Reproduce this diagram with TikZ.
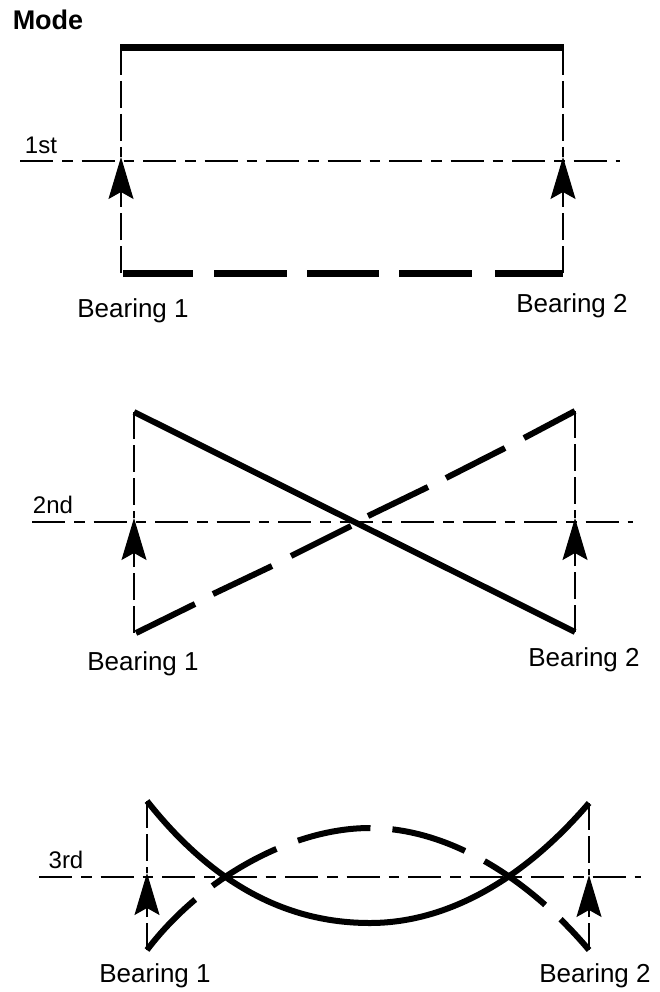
\documentclass[tikz,border=0pt]{standalone}
\usepackage{fontspec}
\setmainfont{Liberation Sans}
\usetikzlibrary{arrows.meta}
\tikzset{
  x=1pt,y=-1pt,
  thick beam/.style={line width=7pt,line cap=butt},
  beam/.style={line width=6pt,line cap=butt},
  guide/.style={line width=1.2pt,dash pattern=on 27pt off 6pt},
  axis/.style={line width=1.2pt,dash pattern=on 33pt off 9pt on 10.5pt off 9pt},
  bearing/.style={guide,-{Stealth[length=42pt,width=25pt,inset=7pt]}},
  lbl/.style={inner sep=0pt,font=\fontsize{26}{26}\selectfont},
  mode/.style={inner sep=0pt,font=\fontsize{24}{24}\selectfont},
}
\begin{document}
\begin{tikzpicture}
\useasboundingbox (0,0) rectangle (659,992);
\node[inner sep=0pt,font=\bfseries\fontsize{27}{27}\selectfont] (title) at (48,20) {Mode};

% 1st mode
\coordinate (a1) at (121,48); \coordinate (b1) at (563,48);
\coordinate (c1) at (121,273); \coordinate (d1) at (563,273);
\coordinate (e1) at (121,157); \coordinate (f1) at (563,157);
\coordinate (g1) at (20,161); \coordinate (h1) at (620,161);
\draw[axis] (g1) -- (h1);
\draw[guide] (a1) -- (e1);
\draw[guide] (b1) -- (f1);
\draw[bearing] (c1) -- (e1);
\draw[bearing] (d1) -- (f1);
\draw[thick beam] (120,48) -- (564,48);
\draw[thick beam] (123,273) -- (193,273);
\draw[thick beam] (214,273) -- (287,273);
\draw[thick beam] (307,273) -- (379,273);
\draw[thick beam] (399,273) -- (472,273);
\draw[thick beam] (495,273) -- (563,273);
\node[mode] (m1) at (41,145) {1st};
\node[lbl] (p1) at (133,311) {Bearing 1};
\node[lbl] (q1) at (572,306) {Bearing 2};

% 2nd mode
\coordinate (a2) at (134,412); \coordinate (b2) at (575,411);
\coordinate (c2) at (134,633); \coordinate (d2) at (575,632);
\coordinate (e2) at (134,518); \coordinate (f2) at (575,518);
\coordinate (g2) at (32,522); \coordinate (h2) at (633,522);
\draw[axis] (g2) -- (h2);
\draw[guide] (a2) -- (e2);
\draw[guide] (b2) -- (f2);
\draw[bearing] (c2) -- (e2);
\draw[bearing] (d2) -- (f2);
\draw[beam] (a2) -- (d2);
\draw[beam] (136,633) -- (195,604);
\draw[beam] (213,594) -- (272,566);
\draw[beam] (291,556) -- (351,526);
\draw[beam] (368,516) -- (428,487);
\draw[beam] (446,478) -- (505,448);
\draw[beam] (524,438) -- (b2);
\node[mode] (m2) at (53,505) {2nd};
\node[lbl] (p2) at (143,664) {Bearing 1};
\node[lbl] (q2) at (584,660) {Bearing 2};

% 3rd mode
\coordinate (a3) at (147,801); \coordinate (b3) at (589,803);
\coordinate (c3) at (147,950); \coordinate (d3) at (589,950);
\coordinate (e3) at (147,873); \coordinate (f3) at (589,875);
\coordinate (g3) at (39,877); \coordinate (h3) at (641,877);
\coordinate (low) at (370,923); \coordinate (top) at (370,828);
\draw[axis] (g3) -- (h3);
\draw[guide] (a3) -- (e3);
\draw[guide] (b3) -- (f3);
\draw[bearing] (c3) -- (e3);
\draw[bearing] (d3) -- (f3);
\draw[beam] (a3) .. controls (222,896) and (300,923) .. (low)
  .. controls (440,923) and (517,887) .. (b3);
\draw[beam,dash pattern=on 70pt off 22pt on 74pt off 23pt on 74pt off 22pt on 76pt off 22pt on 75pt off 21pt on 60pt]
  (c3) .. controls (200,880) and (290,828) .. (top)
  .. controls (450,828) and (530,880) .. (d3);
\node[mode] (m3) at (66,860) {3rd};
\node[lbl] (p3) at (155,976) {Bearing 1};
\node[lbl] (q3) at (595,976) {Bearing 2};
\end{tikzpicture}
\end{document}
